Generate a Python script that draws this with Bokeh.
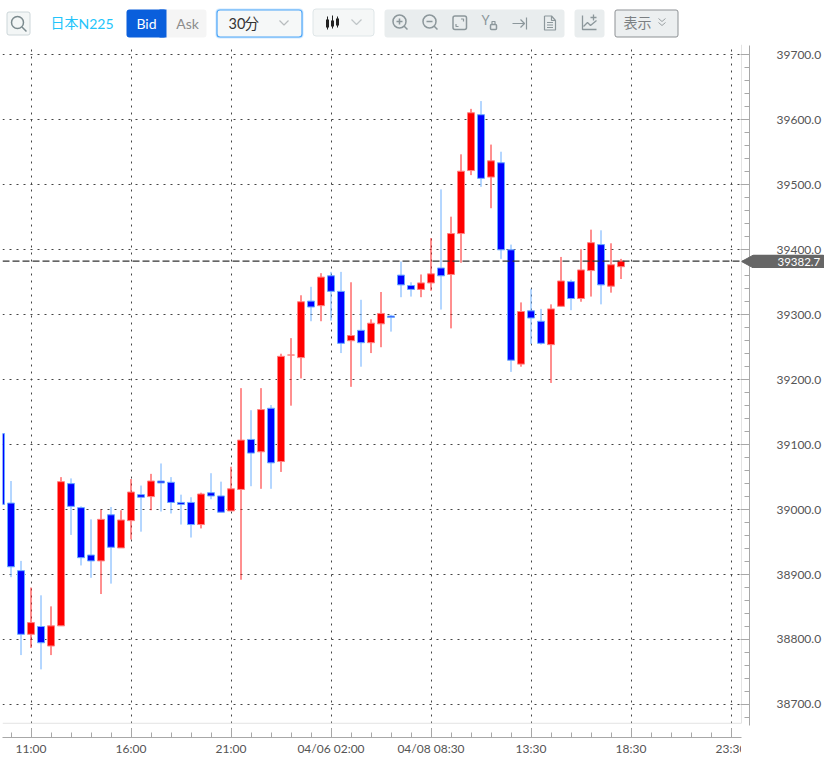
from bokeh.core.properties import value
from bokeh.embed import file_html
from bokeh.resources import INLINE
from bokeh.layouts import column
from bokeh.models import (BoxAnnotation, ColumnDataSource, Div, FixedTicker, NumeralTickFormatter,
                          Range1d, SingleIntervalTicker, Span)
from bokeh.plotting import figure

# ---------- data ----------
opens = [39117,39010,38906,38808,38820,38790,38821,39040,39003,38930,38921,38992,38941,38983,39023,39020,
         39044,39042,39011,39011,38977,39026,39021,38998,39031,39108,39089,39156,39074,39238,39234,39321,
         39314,39360,39336,39260,39276,39257,39286,39298,39361,39345,39339,39349,39372,39362,39425,39522,
         39608,39512,39534,39400,39224,39306,39290,39254,39313,39351,39325,39368,39408,39344,39374]
highs = [39118,39044,38921,38880,38868,38851,39050,39048,39005,38985,39000,39004,38999,39047,39037,39055,
         39071,39050,39023,39019,39026,39056,39043,39066,39187,39153,39187,39161,39240,39264,39330,39343,
         39364,39366,39366,39350,39323,39293,39335,39300,39382,39350,39362,39418,39493,39451,39547,39617,
         39629,39562,39551,39408,39319,39340,39309,39316,39389,39354,39401,39431,39430,39410,39386]
lows = [39008,38896,38776,38787,38754,38776,38821,38961,38914,38895,38870,38886,38941,38954,38966,38999,
        38997,38994,38977,38957,38971,39016,38996,38998,38892,39036,39032,39032,39058,39160,39202,39290,
        39290,39291,39241,39189,39220,39241,39250,39274,39327,39328,39327,39337,39308,39279,39380,39515,
        39497,39464,39386,39212,39220,39255,39254,39195,39313,39307,39320,39328,39316,39334,39355]
closes = [39008,38912,38808,38826,38795,38821,39043,39005,38926,38921,38985,38942,38984,39027,39019,39044,
          39041,39011,39008,38977,39024,39021,38996,39032,39107,39087,39154,39072,39236,39238,39320,39312,
          39358,39336,39256,39268,39257,39287,39302,39296,39346,39339,39349,39363,39360,39425,39521,39611,
          39510,39537,39400,39230,39305,39295,39256,39309,39352,39325,39369,39411,39346,39377,39382.7]
last_price = 39382.7
time_ticks = [3, 13, 23, 33, 43, 53, 63, 73]
time_labels = ["11:00", "16:00", "21:00", "04/06 02:00", "04/08 08:30", "13:30", "18:30", "23:30"]
minor_time_ticks = list(range(1, 74, 2))

RED, BLUE = "#ff0000", "#0000ff"
TEXT = "#555555"
FONT = "Lato"
CJK = "Noto Sans CJK JP"

# ---------- toolbar (its frame lines up with the chart frame below it) ----------
bar = figure(width=825, height=44, x_range=Range1d(3, 750), y_range=Range1d(44, 0),
             x_axis_type=None, y_axis_type=None, toolbar_location=None, output_backend="svg",
             min_border_left=2, min_border_right=76, min_border_top=0, min_border_bottom=0,
             outline_line_color=None, background_fill_color="white")
bar.grid.visible = False


def box(l, r, t, b, fill, line=None, radius=3, width=1.0):
    bar.add_layout(BoxAnnotation(left=l, right=r, top=t, bottom=b, fill_color=fill, fill_alpha=1 if fill else 0,
                                 line_color=line, line_alpha=1 if line else 0, line_width=width,
                                 border_radius=radius, level="underlay"))


def text(x, y, s, color, size="14px", align="left", font=FONT):
    bar.text([x], [y], text=[s], text_color=color, text_font_size=size, text_align=align,
             text_baseline="middle", text_font=value(font))


def lines(paths, color, width=1.5):
    bar.multi_line([p[0] for p in paths], [p[1] for p in paths], line_color=color, line_width=width)


def ring(x, y, r, color, width=1.5):
    bar.circle([x], [y], radius=r, fill_color=None, line_color=color, line_width=width)


ICON = "#8c979b"
box(7.5, 30.5, 11.5, 34.5, "#f3f6f6", "#ccd6d9", 2)
ring(18, 22, 6, "#7b8a8e")
lines([([22.5, 27], [26.5, 31])], "#7b8a8e")
text(51, 21.5, "日本", "#22c4fb", "14px", font=CJK)
text(79, 23, "N225", "#22c4fb", "14px")

box(127, 167, 9, 37, "#0a5fdc", None, 3)
box(165, 207, 9, 37, "#f5f5f5", None, 3)
box(160, 167, 9, 37, "#0a5fdc", None, 0)
text(147, 23, "Bid", "#ffffff", "14px", "center")
text(188, 23, "Ask", "#8c8c8c", "14px", "center")

box(216, 304, 8, 38, "#cfe8ff", None, 4)
box(217.5, 302.5, 9.5, 36.5, "#f6f8f8", "#4da6f8", 3, 1.2)
text(229, 23, "30", "#333333", "14.5px")
text(245, 21.5, "分", "#333333", "14.5px", font=CJK)
lines([([280, 284.5, 289], [20, 24.5, 20])], "#b8bcbe", 1.2)

box(313.5, 374.5, 8.5, 35.5, "#f5f7f7", "#dfe6e8", 3)
lines([([328, 328], [16, 29]), ([333, 333], [15, 28]), ([338, 338], [16, 27])], "#222222", 1)
lines([([328, 328], [19, 27]), ([333, 333], [20, 26]), ([338, 338], [18, 25])], "#222222", 3)
lines([([352, 357, 362], [19, 24, 19])], "#c0c6c8", 1.2)

box(385, 565, 9, 37, "#e9edee", None, 3)
ring(400, 21, 6.5, ICON)
lines([([404.5, 408], [25.5, 29]), ([397, 403], [21, 21]), ([400, 400], [18, 24])], ICON)
ring(430, 21, 6.5, ICON)
lines([([434.5, 438], [25.5, 29]), ([427, 433], [21, 21])], ICON)
box(453.5, 467, 15.5, 29, None, ICON, 2, 1.5)
lines([([456.5, 456.5, 459], [23.5, 26, 26]), ([461.5, 464, 464], [18.5, 18.5, 21])], ICON, 1.2)
text(482, 19, "Y", ICON, "13px")
box(491, 497, 24, 29, None, ICON, 1, 1.5)
lines([([492.5, 492.5, 495.5, 495.5], [24, 21, 21, 24])], ICON, 1.2)
lines([([513, 525], [23, 23]), ([521, 525, 521], [19, 23, 27]), ([527, 527], [17, 29])], ICON, 1.2)
lines([([545, 545, 556, 556, 552, 545], [15.5, 29.5, 29.5, 20, 15.5, 15.5]),
       ([552, 552, 556], [15.5, 20, 20]), ([547.5, 553.5], [22, 22]), ([547.5, 553.5], [24.5, 24.5]),
       ([547.5, 553.5], [27, 27])], ICON, 1.2)

box(575, 605, 9, 37, "#e9edee", None, 3)
lines([([583, 583, 597], [15, 29, 29]), ([584, 588, 591, 597], [26, 22, 25, 20]),
       ([594, 594], [14, 20]), ([591, 597], [17, 17])], ICON, 1.3)

box(615.5, 678.5, 9.5, 36.5, "#eceff0", "#8d9194", 2)
text(624, 21.5, "表示", "#7b7f82", "14px", font=CJK)
lines([([659, 662.5, 666], [18, 21, 18]), ([659, 662.5, 666], [22, 25, 22])], "#9aa0a3", 1)

# ---------- chart ----------
src_up = {k: [] for k in "ohlcx"}
src_dn = {k: [] for k in "ohlcx"}
for i, (o, h, l, c) in enumerate(zip(opens, highs, lows, closes)):
    d = src_up if c >= o else src_dn
    for k, v in zip("ohlcx", (o, h, l, c, i)):
        d[k].append(v)
up, dn = ColumnDataSource(src_up), ColumnDataSource(src_dn)

# 10 px per candle, 0.6485 px per price unit
p = figure(width=825, height=714, x_range=Range1d(0.15, 74.85), y_range=Range1d(38649.1, 39716.1),
           y_axis_location="right", toolbar_location=None, output_backend="svg",
           min_border_left=2, min_border_right=76, min_border_top=0, min_border_bottom=21,
           outline_line_color=None, background_fill_color="white")

xa, ya = p.xaxis[0], p.yaxis[0]
xa.ticker = FixedTicker(ticks=time_ticks, minor_ticks=minor_time_ticks)
xa.major_label_overrides = dict(zip(time_ticks, time_labels))
xa.bounds = (0.15, 74.05)
ya.ticker = SingleIntervalTicker(interval=100, num_minor_ticks=5)
ya.formatter = NumeralTickFormatter(format="0.0")
ya.bounds = (38667, 39714)
for ax in (xa, ya):
    ax.axis_line_color = "#a8a8a8"
    ax.major_tick_line_color = "#a8a8a8"
    ax.minor_tick_line_color = "#a8a8a8"
    ax.major_tick_in, ax.major_tick_out = 9, 0
    ax.minor_tick_in, ax.minor_tick_out = 5, 0
    ax.major_label_text_color = TEXT
    ax.major_label_text_font = FONT
    ax.major_label_text_font_size = "12px"
xa.major_label_standoff = 3
ya.major_label_standoff = 27

for g in (p.xgrid[0], p.ygrid[0]):
    g.grid_line_color = "#444444"
    g.grid_line_dash = [2, 5]
    g.grid_line_width = 1

# light frame lines
p.line([74.05, 74.05], [38671, 39716], line_color="#e3e3e3", line_width=1)
p.line([0.15, 74.05], [38671, 38671], line_color="#e3e3e3", line_width=1)

p.segment("x", "h", "x", "l", source=dn, line_color="#6aaeff", line_width=1)
p.segment("x", "h", "x", "l", source=up, line_color="#ff2020", line_width=1)
p.vbar("x", 0.7, "o", "c", source=dn, fill_color=BLUE, line_color="#66aaff", line_width=1)
p.vbar("x", 0.7, "o", "c", source=up, fill_color=RED, line_color="#ff8080", line_width=1)

p.add_layout(Span(location=last_price, dimension="width", line_color="#333333", line_dash=[7, 3],
                  line_width=1.2, level="overlay"))

# ---------- price tag: a small figure laid over the axis area ----------
tag = figure(width=84, height=14, x_range=Range1d(741, 825), y_range=Range1d(14, 0),
             x_axis_type=None, y_axis_type=None, toolbar_location=None, output_backend="svg",
             min_border=0, outline_line_color=None, background_fill_alpha=0, border_fill_alpha=0,
             styles={"position": "absolute", "left": "741px", "top": "254px"})
tag.grid.visible = False
tag.patch([741, 753, 823, 823, 753], [7, 0.5, 0.5, 13.5, 13.5], fill_color="#666666", line_color="#666666")
tag.text([777], [7], text=[f"{last_price}"], text_color="white", text_font=value(FONT),
         text_font_size="11.5px", text_baseline="middle")

# the time axis is cut at the edge of the plot area
cover = Div(text="", width=34, height=18, margin=0,
            styles={"position": "absolute", "left": "741px", "top": "739px", "background": "white"})

page = column(bar, p, spacing=0)
open("out.html", "w").write(file_html([page, tag, cover], INLINE))
